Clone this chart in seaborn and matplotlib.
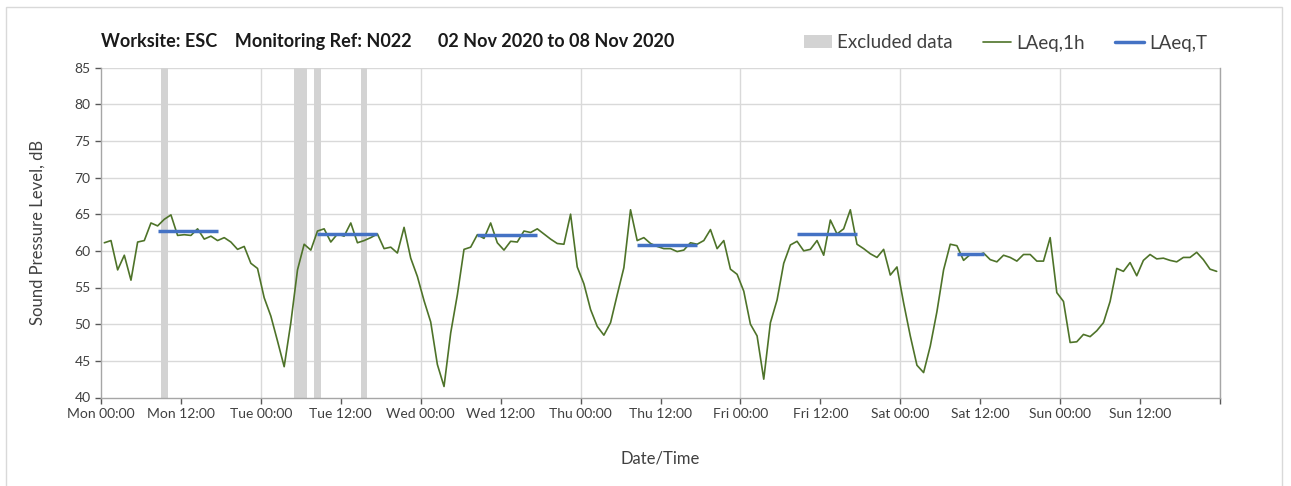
import numpy as np
import pandas as pd
import matplotlib.pyplot as plt
import seaborn as sns
from matplotlib.lines import Line2D
from matplotlib.patches import Patch, Rectangle

# hourly LAeq,1h values, Mon 00:00 to Sun 23:00
laeq_1h = [
    61.1, 61.4, 57.4, 59.4, 56.0, 61.2, 61.4, 63.8, 63.4, 64.3, 64.9, 62.1,
    62.2, 62.1, 63.0, 61.6, 62.0, 61.4, 61.8, 61.2, 60.2, 60.6, 58.3, 57.6,
    53.6, 51.1, 47.7, 44.2, 50.2, 57.4, 60.9, 60.1, 62.7, 63.0, 61.2, 62.3,
    62.0, 63.8, 61.1, 61.4, 61.8, 62.3, 60.3, 60.5, 59.7, 63.2, 59.0, 56.5,
    53.2, 50.3, 44.5, 41.5, 48.8, 54.0, 60.2, 60.5, 62.2, 61.7, 63.8, 61.1,
    60.1, 61.3, 61.2, 62.7, 62.5, 63.0, 62.3, 61.6, 61.0, 60.9, 65.0, 57.8,
    55.5, 52.0, 49.7, 48.5, 50.2, 54.0, 57.7, 65.6, 61.4, 61.8, 61.0, 60.6,
    60.3, 60.3, 59.9, 60.1, 61.1, 60.9, 61.4, 62.9, 60.3, 61.4, 57.5, 56.8,
    54.5, 50.0, 48.4, 42.5, 50.2, 53.3, 58.3, 60.8, 61.3, 60.0, 60.2, 61.4,
    59.4, 64.2, 62.3, 63.0, 65.6, 60.9, 60.3, 59.6, 59.1, 60.2, 56.7, 57.8,
    52.9, 48.4, 44.4, 43.4, 47.0, 51.7, 57.4, 60.9, 60.7, 58.7, 59.5, 59.4,
    59.7, 58.8, 58.5, 59.4, 59.1, 58.6, 59.5, 59.5, 58.6, 58.6, 61.8, 54.3,
    53.1, 47.5, 47.6, 48.6, 48.3, 49.1, 50.2, 53.1, 57.6, 57.2, 58.4, 56.6,
    58.7, 59.5, 58.9, 59.0, 58.7, 58.5, 59.1, 59.1, 59.8, 58.8, 57.5, 57.2,
]

# excluded hours (hour index from Mon 00:00)
excluded_hours = [9, 29, 30, 32, 39]

# LAeq,T daytime periods: first hour, last hour, level
period_start = [8, 32, 56, 80, 104, 128]
period_end = [17, 41, 65, 89, 113, 132]
period_level = [62.7, 62.3, 62.1, 60.8, 62.3, 59.6]

days = ['Mon', 'Tue', 'Wed', 'Thu', 'Fri', 'Sat', 'Sun']
tick_labels = [f'{d} {t}' for d in days for t in ['00:00', '12:00']] + ['']

df = pd.DataFrame({'hour': np.arange(len(laeq_1h)) + 0.5, 'laeq': laeq_1h})

sns.set_theme(style='white')
plt.rcParams['font.family'] = ['Lato', 'DejaVu Sans']

fig = plt.figure(figsize=(12.91, 4.86), dpi=100)
ax = fig.add_axes([101 / 1291, 1 - 397.5 / 486, 1119 / 1291, 330 / 486])

grid_col = '#d9d9d9'
for y in range(45, 90, 5):
    ax.axhline(y, color=grid_col, lw=1, zorder=0)
for x in range(24, 169, 24):
    ax.axvline(x, color=grid_col, lw=1, zorder=0)

for h in excluded_hours:
    ax.axvspan(h, h + 1, color='#d3d3d3', lw=0, zorder=1)

sns.lineplot(data=df, x='hour', y='laeq', ax=ax, color='#4e7329', lw=1.2, zorder=3)

ax.hlines(period_level, np.array(period_start) + 0.5, np.array(period_end) + 0.5,
          color='#4472c4', lw=2.5, zorder=4)

ax.set_xlim(0, 168)
ax.set_ylim(40, 85)
ax.set_xticks(range(0, 169, 12))
ax.set_xticklabels(tick_labels)
ax.set_yticks(range(40, 90, 5))
ax.tick_params(axis='both', labelsize=10, colors='#595959', labelcolor='#404040',
               length=4, width=1, direction='out', bottom=True, left=True)

ax.spines['top'].set_visible(False)
for s in ['left', 'bottom', 'right']:
    ax.spines[s].set_color('#a6a6a6')
    ax.spines[s].set_linewidth(1)

ax.set_xlabel('Date/Time', fontsize=12, color='#404040', labelpad=22)
ax.set_ylabel('Sound Pressure Level, dB', fontsize=12, color='#404040', labelpad=21)

fig.text(101 / 1291, 1 - 41 / 486,
         'Worksite: ESC    Monitoring Ref: N022      02 Nov 2020 to 08 Nov 2020',
         fontsize=13, fontweight='bold', color='#1a1a1a', va='center', ha='left')

handles = [
    Patch(facecolor='#d3d3d3', edgecolor='none', label='Excluded data'),
    Line2D([], [], color='#4e7329', lw=1.2, label='LAeq,1h'),
    Line2D([], [], color='#4472c4', lw=2.5, label='LAeq,T'),
]
fig.legend(handles=handles, loc='center right', bbox_to_anchor=(1224 / 1291, 1 - 43 / 486),
           ncol=3, frameon=False, fontsize=13.5, handlelength=1.5, handletextpad=0.3,
           columnspacing=1.6, labelcolor='#404040')

fig.add_artist(Rectangle((6 / 1291, -0.05), 1276 / 1291, 1.05 - 7 / 486,
                         transform=fig.transFigure, fill=False,
                         edgecolor='#d9d9d9', lw=1))

fig.savefig('out.png', dpi=100)
